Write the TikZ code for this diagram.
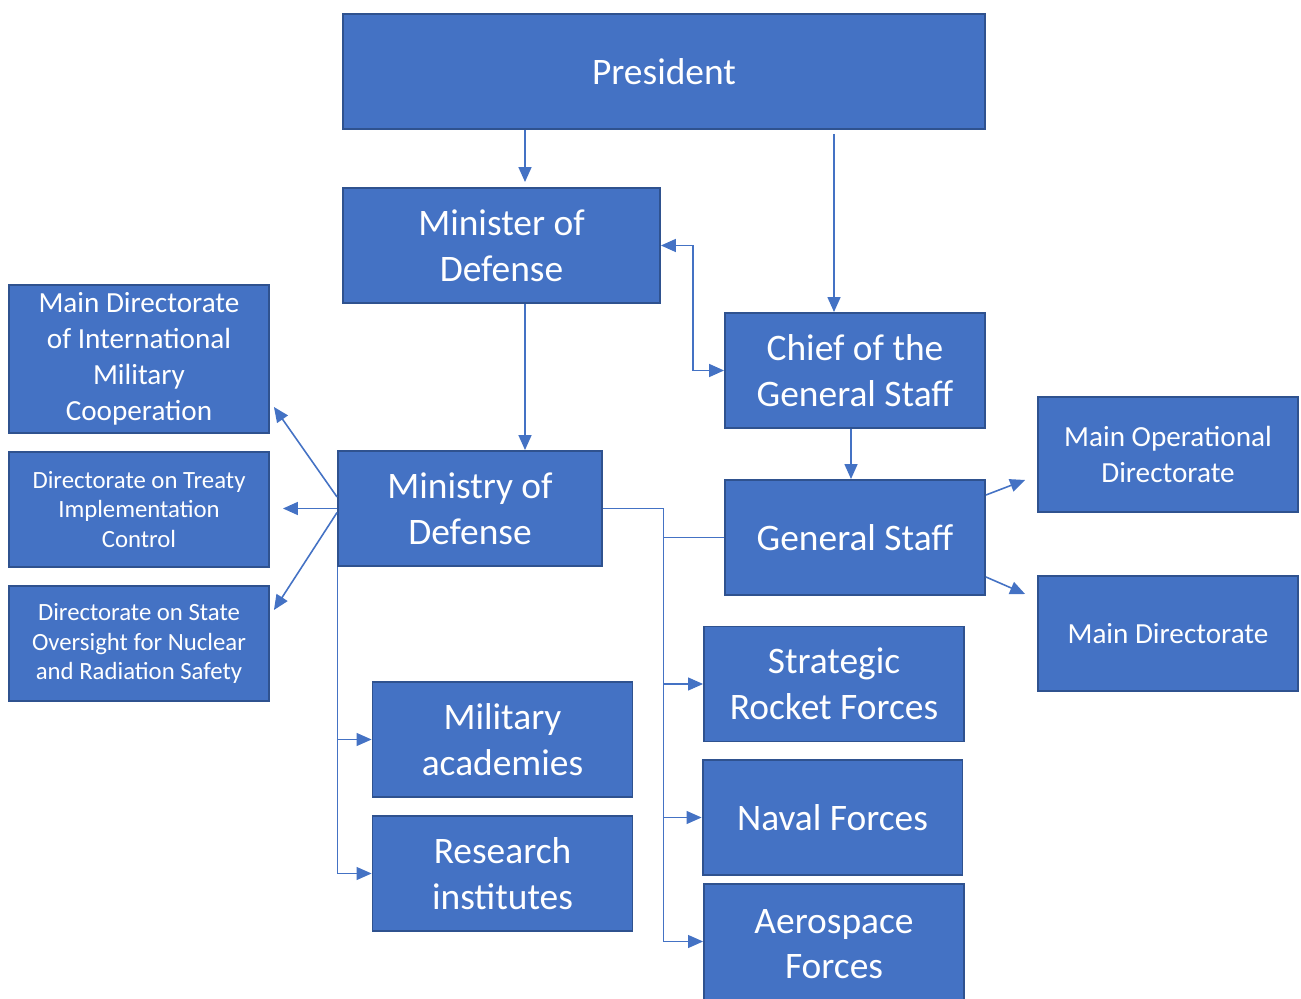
\documentclass[tikz,border=0pt]{standalone}
\usepackage{fontspec}
\setmainfont{Carlito}
\usetikzlibrary{arrows.meta}
\definecolor{boxfill}{HTML}{4472C4}
\definecolor{boxline}{HTML}{2F528F}
\tikzset{
  box/.style={rectangle, draw=boxline, line width=1.1pt, fill=boxfill, text=white,
    align=center, minimum width=5.2cm, minimum height=2.3cm, inner sep=2pt},
  bigtext/.style={font=\fontsize{21.3}{26}\selectfont},
  midtext/.style={font=\fontsize{16.6}{20.4}\selectfont},
  smalltext/.style={font=\fontsize{14.1}{17}\selectfont},
  arr/.style={draw=boxfill, line width=0.9pt, -{Triangle[length=0.3cm,width=0.26cm]}},
  twoarr/.style={draw=boxfill, line width=0.9pt, {Triangle[length=0.3cm,width=0.26cm]}-{Triangle[length=0.3cm,width=0.26cm]}},
  thinline/.style={draw=boxfill, line width=0.6pt},
  thinarr/.style={thinline, -{Triangle[length=0.3cm,width=0.26cm]}}
}
\begin{document}
\begin{tikzpicture}[x=0.02cm, y=-0.02cm]
    \useasboundingbox (0,0) rectangle (1301,999);

    % Boxes
    \node[box, bigtext, minimum width=12.84cm] (pres) at (664, 71.5) {President};
    \node[box, bigtext, minimum width=6.34cm] (min) at (501.5, 245.5) {Minister of\\Defense};
    \node[box, bigtext] (chief) at (855, 370.5) {Chief of the\\General Staff};
    \node[box, midtext, minimum height=2.96cm] (mdimc) at (139, 359) {Main Directorate\\of International\\Military\\Cooperation};
    \node[box, smalltext] (treaty) at (139, 509.5) {Directorate on Treaty\\Implementation\\Control};
    \node[box, smalltext] (nuclear) at (139, 643.5) {Directorate on State\\Oversight for Nuclear\\and Radiation Safety};
    \node[box, bigtext, minimum width=5.28cm] (mod) at (470, 508.5) {Ministry of\\Defense};
    \node[box, bigtext] (gs) at (855, 537.5) {General Staff};
    \node[box, midtext] (mainop) at (1168, 454.5) {Main Operational\\Directorate};
    \node[box, midtext] (maindir) at (1168, 633.5) {Main Directorate};
    \node[box, bigtext] (srf) at (834, 684) {Strategic\\Rocket Forces};
    \node[box, bigtext] (naval) at (832.5, 817.5) {Naval Forces};
    \node[box, bigtext, minimum height=2.4cm] (aero) at (834, 944) {Aerospace\\Forces};
    \node[box, bigtext] (acad) at (502.5, 739.5) {Military\\academies};
    \node[box, bigtext] (res) at (502.5, 873.5) {Research\\institutes};

    % Top connectors
    \draw[arr] ([xshift=0.47cm]min.north |- pres.south) -- ([xshift=0.47cm,yshift=0.1cm]min.north);
    \draw[arr] ([xshift=-0.42cm,yshift=-0.08cm]chief.north |- pres.south) -- ([xshift=-0.42cm]chief.north);
    \draw[twoarr] (min.east) -- ++(0.64cm,0) |- (chief.west);
    \draw[arr] ([xshift=0.47cm]min.south) -- ([xshift=0.47cm]min.south |- mod.north);
    \draw[arr] ([xshift=-0.08cm]chief.south) -- ([xshift=-0.08cm]chief.south |- gs.north);

    % Ministry to directorates
    \draw[arr] ([yshift=0.23cm]mod.west) -- ([xshift=0.08cm,yshift=-0.96cm]mdimc.east);
    \draw[arr] (mod.west) -- ([xshift=0.26cm]treaty.east |- mod.west);
    \draw[arr] ([yshift=-0.08cm]mod.west) -- ([xshift=0.08cm,yshift=0.67cm]nuclear.east);

    % Ministry to academies and institutes
    \draw[thinarr] (mod.south west) |- (acad.west);
    \draw[thinarr] (mod.south west) |- (res.west);

    % Ministry to forces
    \draw[thinline] (mod.east) -- ++(1.22cm,0) coordinate (bus);
    \draw[thinarr] (bus) |- (srf.west);
    \draw[thinarr] (bus) |- (naval.west);
    \draw[thinarr] (bus) |- ([yshift=0.05cm]aero.west);
    \draw[thinline] (bus |- gs.west) -- (gs.west);

    % General Staff to directorates
    \draw[arr] ([yshift=0.85cm]gs.east) -- ([xshift=-0.24cm,yshift=-0.51cm]mainop.west);
    \draw[arr] ([yshift=-0.79cm]gs.east) -- ([xshift=-0.24cm,yshift=0.79cm]maindir.west);

\end{tikzpicture}
\end{document}
